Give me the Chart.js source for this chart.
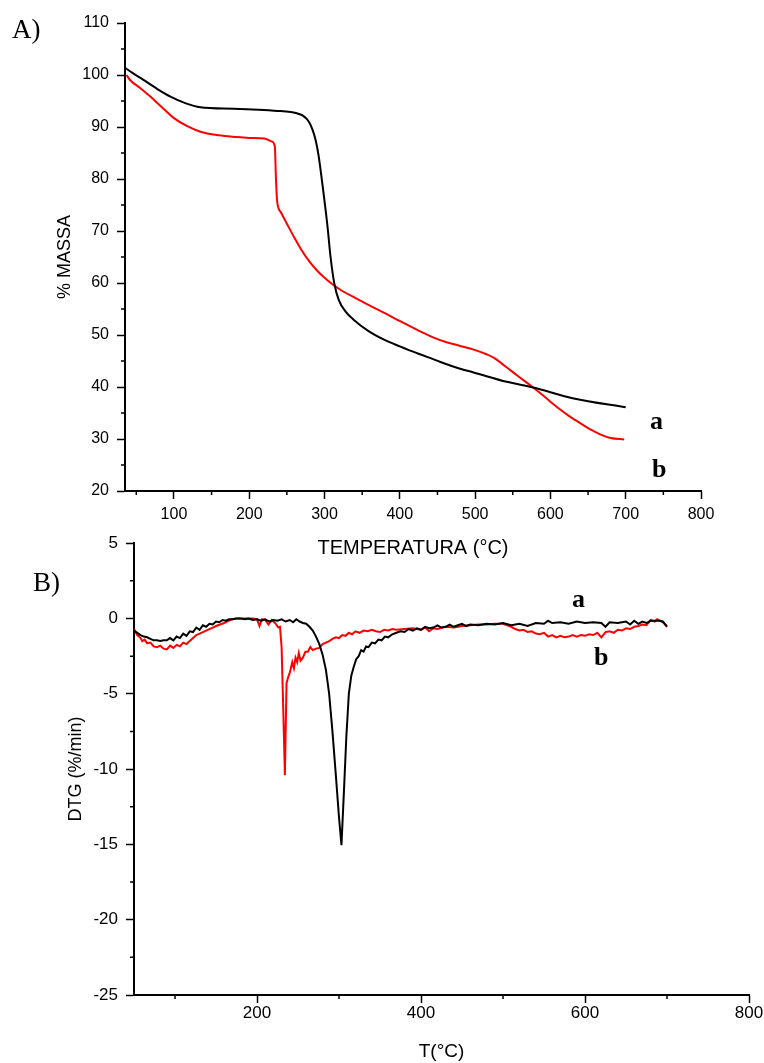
<!DOCTYPE html>
<html lang="pt">
<head>
<meta charset="UTF-8">
<title>TGA / DTG</title>
<script src="https://cdn.jsdelivr.net/npm/chart.js@4.4.1/dist/chart.umd.min.js"></script>
<style>
  body { margin: 0; background: #fff; }
  #page { position: relative; width: 764px; height: 1063px; overflow: hidden; }
  canvas { position: absolute; left: 0; }
  .tag { position: absolute; font-family: "Liberation Serif", serif; line-height: 1; color: #000; }
  .panel { font-size: 27px; }
  .curve { font-size: 26px; font-weight: bold; }
</style>
</head>
<body>
<div id="page">
  <canvas id="tga-chart" width="764" height="565" style="top:0"></canvas>
  <canvas id="dtg-chart" width="764" height="538" style="top:525px"></canvas>
  <div class="tag panel" style="left:12px;top:16px">A)</div>
  <div class="tag panel" style="left:33px;top:569px">B)</div>
  <div class="tag curve" style="left:650px;top:408px">a</div>
  <div class="tag curve" style="left:652px;top:456px">b</div>
  <div class="tag curve" style="left:572px;top:586px">a</div>
  <div class="tag curve" style="left:594px;top:644px">b</div>
</div>

<script>
    // A) mass loss curves
    const tgaTempA = [35, 45, 60, 78, 96, 115, 135, 179, 237, 255,
                      262, 268, 272, 276, 280, 284, 288, 292, 297, 304,
                      308, 313, 319, 328, 339, 358, 379, 400, 412, 423,
                      438, 454, 480, 498, 542, 577, 631, 700];
    const tgaMassA = [101.4, 100.4, 99.0, 97.3, 95.8, 94.6, 93.8, 93.5, 93.1, 92.9,
                      92.7, 92.4, 92.1, 91.6, 90.8, 89.5, 87.6, 84.6, 79.2, 70.8,
                      65.0, 59.9, 56.7, 54.5, 52.9, 50.8, 49.1, 47.8, 47.1, 46.5,
                      45.7, 44.8, 43.5, 42.8, 41.0, 39.9, 37.8, 36.1];

    const tgaTempB = [37, 42, 55, 69, 84, 100, 117, 135, 160, 180,
                      200, 220, 230, 234, 235.5, 237, 242, 250, 260, 270,
                      280, 290, 300, 310, 321, 340, 357, 380, 401, 423,
                      445, 460, 480, 500, 515, 525, 540, 556, 577, 590,
                      609, 625, 640, 655, 666, 680, 698];
    const tgaMassB = [100, 99, 97.5, 95.8, 93.8, 91.7, 90.2, 89.1, 88.4, 88.1,
                      87.9, 87.8, 87.2, 86.3, 80, 75.8, 73.6, 71.4, 68.7, 66.2,
                      64.1, 62.4, 61.0, 59.8, 58.7, 57.2, 55.9, 54.2, 52.6, 51.0,
                      49.5, 48.7, 47.9, 47.1, 46.3, 45.6, 44.0, 42.2, 39.9, 38.4,
                      36.1, 34.4, 33.0, 31.7, 30.9, 30.2, 29.9];

    // B) derivative curves
    const dtgTempA = [50, 54, 58, 62, 66, 70, 74, 78, 82, 86,
                      90, 94, 98, 102, 106, 110, 114, 118, 122, 126,
                      130, 134, 138, 142, 146, 150, 154, 158, 162, 166,
                      170, 175, 180, 185, 190, 195, 200, 205, 210, 215,
                      220, 225, 230, 235, 240, 244, 248, 252, 256, 260,
                      264, 268, 272, 276, 280, 284, 288, 292, 296, 300,
                      303, 306, 309, 312, 315, 318, 321, 324, 327, 330,
                      333, 336, 340, 344, 348, 352, 356, 360, 365, 370,
                      375, 380, 385, 390, 395, 400, 405, 410, 415, 420,
                      425, 430, 435, 440, 445, 450, 455, 460, 470, 480,
                      490, 500, 510, 520, 530, 540, 550, 555, 560, 570,
                      580, 590, 600, 610, 620, 625, 630, 640, 650, 655,
                      660, 665, 670, 675, 680, 690, 695, 700];
    const dtgRateA = [-0.8, -0.95, -1.1, -1.2, -1.25, -1.35, -1.45, -1.45, -1.5, -1.45,
                      -1.45, -1.3, -1.45, -1.2, -1.3, -1.0, -1.15, -0.85, -0.9, -0.6,
                      -0.75, -0.45, -0.55, -0.35, -0.4, -0.2, -0.25, -0.1, -0.15, -0.05,
                      -0.05, 0, 0, -0.05, 0, -0.1, -0.05, -0.15, -0.05, -0.2,
                      -0.1, -0.15, -0.05, -0.2, -0.1, -0.25, -0.05, -0.2, -0.3, -0.35,
                      -0.55, -0.8, -1.2, -1.7, -2.4, -3.4, -5.0, -7.5, -10.3, -13.2,
                      -15.05, -11.5, -7.8, -5.0, -3.8, -3.2, -2.7, -2.5, -2.1, -2.2,
                      -1.85, -1.9, -1.6, -1.65, -1.4, -1.45, -1.2, -1.25, -1.05, -0.95,
                      -0.85, -0.9, -0.7, -0.8, -0.65, -0.75, -0.55, -0.65, -0.6, -0.45,
                      -0.6, -0.55, -0.4, -0.55, -0.45, -0.35, -0.5, -0.4, -0.45, -0.35,
                      -0.4, -0.3, -0.45, -0.35, -0.5, -0.3, -0.35, -0.15, -0.3, -0.25,
                      -0.35, -0.2, -0.3, -0.25, -0.3, -0.55, -0.25, -0.3, -0.2, -0.4,
                      -0.15, -0.35, -0.2, -0.3, -0.15, -0.15, -0.2, -0.55];

    const dtgTempB = [50, 54, 58, 60, 63, 66, 70, 74, 78, 82,
                      86, 90, 94, 98, 102, 106, 110, 114, 118, 122,
                      126, 130, 134, 138, 142, 146, 150, 155, 160, 165,
                      170, 175, 180, 185, 190, 195, 200, 203, 206, 210,
                      214, 218, 222, 226, 228, 230, 232, 234, 236, 238,
                      240, 243, 245, 247, 249, 251, 253, 256, 259, 262,
                      265, 268, 272, 276, 280, 284, 288, 292, 296, 300,
                      304, 308, 312, 316, 320, 325, 330, 335, 340, 345,
                      350, 355, 360, 365, 370, 380, 390, 400, 405, 410,
                      415, 420, 430, 440, 450, 460, 470, 480, 490, 500,
                      505, 510, 515, 520, 525, 530, 535, 540, 545, 550,
                      555, 560, 565, 570, 575, 580, 585, 590, 595, 600,
                      605, 610, 615, 620, 625, 630, 635, 640, 645, 650,
                      655, 660, 665, 670, 675, 680, 685, 688, 692, 696, 700];
    const dtgRateB = [-0.7, -1.1, -1.3, -1.5, -1.4, -1.65, -1.6, -1.85, -1.9, -1.8,
                      -2.0, -2.05, -1.8, -1.95, -1.75, -1.85, -1.6, -1.7, -1.5, -1.3,
                      -1.1, -1.0, -0.9, -0.8, -0.7, -0.6, -0.5, -0.4, -0.3, -0.15,
                      -0.05, 0, 0, 0, 0, 0, -0.05, -0.5, -0.05, -0.1,
                      -0.4, -0.1, -0.3, -0.6, -0.55, -1.9, -6.0, -10.4, -4.3, -3.9,
                      -3.6, -2.9, -3.3, -2.6, -2.9, -2.3, -2.8, -2.6, -2.2, -2.2,
                      -1.9, -2.1, -2.0, -1.95, -1.7, -1.6, -1.5, -1.35, -1.25, -1.3,
                      -1.1, -1.15, -0.95, -1.05, -0.85, -0.95, -0.8, -0.85, -0.75, -0.85,
                      -0.9, -0.75, -0.8, -0.7, -0.75, -0.7, -0.65, -0.75, -0.6, -0.85,
                      -0.65, -0.7, -0.55, -0.6, -0.5, -0.45, -0.4, -0.4, -0.35, -0.35,
                      -0.45, -0.55, -0.7, -0.8, -0.75, -0.9, -0.85, -1.0, -1.05, -0.95,
                      -1.2, -1.1, -1.25, -1.15, -1.25, -1.2, -1.1, -1.2, -1.1, -1.15,
                      -1.05, -1.1, -0.95, -1.25, -0.9, -0.85, -0.95, -0.75, -0.8, -0.65,
                      -0.7, -0.55, -0.5, -0.4, -0.45, -0.1, -0.2, -0.05, -0.15, -0.3, -0.5];

    // axis ticks
    const tgaXTicks = [100, 200, 300, 400, 500, 600, 700, 800];
    const tgaXMinor = [50, 150, 250, 350, 450, 550, 650, 750];
    const tgaYTicks = [20, 30, 40, 50, 60, 70, 80, 90, 100, 110];
    const tgaYMinor = [25, 35, 45, 55, 65, 75, 85, 95, 105];
    const dtgXTicks = [200, 400, 600, 800];
    const dtgXMinor = [100, 300, 500, 700];
    const dtgYTicks = [-25, -20, -15, -10, -5, 0, 5];
    const dtgYMinor = [-22.5, -17.5, -12.5, -7.5, -2.5, 2.5];

    const SANS = "'Liberation Sans', Arial, sans-serif";

    const minorTicks = {
        id: 'minorTicks',
        afterDraw(chart, args, opts) {
            const {ctx, chartArea, scales} = chart;
            ctx.save();
            ctx.strokeStyle = '#000';
            ctx.lineWidth = 1.5;
            ctx.beginPath();
            (opts.x || []).forEach(v => {
                const px = scales.x.getPixelForValue(v);
                ctx.moveTo(px, chartArea.bottom);
                ctx.lineTo(px, chartArea.bottom + opts.length);
            });
            (opts.y || []).forEach(v => {
                const py = scales.y.getPixelForValue(v);
                ctx.moveTo(chartArea.left - opts.length, py);
                ctx.lineTo(chartArea.left, py);
            });
            ctx.stroke();
            ctx.restore();
        }
    };

    function toPoints(xs, ys) {
        return xs.map((x, i) => ({x: x, y: ys[i]}));
    }

    function axis(o) {
        return {
            type: 'linear',
            min: o.min,
            max: o.max,
            afterBuildTicks: s => { s.ticks = o.ticks.map(v => ({value: v})); },
            afterFit: s => { if (o.width) s.width = o.width; if (o.height) s.height = o.height; },
            grid: {drawOnChartArea: false, tickLength: 8, tickWidth: 1.5, tickColor: '#000'},
            border: {color: '#000', width: 2},
            ticks: {color: '#000', font: {family: SANS, size: o.tickSize}, padding: o.tickPad,
                    autoSkip: false, maxRotation: 0},
            title: {display: true, text: o.title, color: '#000',
                    font: {family: SANS, size: o.titleSize}, padding: o.titlePad}
        };
    }

    new Chart('tga-chart', {
        type: 'line',
        data: {
            datasets: [
                {data: toPoints(tgaTempA, tgaMassA), borderColor: '#000', borderWidth: 2,
                 pointRadius: 0, cubicInterpolationMode: 'monotone'},
                {data: toPoints(tgaTempB, tgaMassB), borderColor: '#ff0000', borderWidth: 2,
                 pointRadius: 0, cubicInterpolationMode: 'monotone'}
            ]
        },
        options: {
            responsive: false,
            animation: false,
            layout: {padding: {top: 23, right: 63, left: 0, bottom: 0}},
            plugins: {legend: {display: false}, tooltip: {enabled: false},
                      minorTicks: {x: tgaXMinor, y: tgaYMinor, length: 4}},
            scales: {
                x: axis({min: 35, max: 800, ticks: tgaXTicks, height: 74, tickSize: 16, tickPad: 6,
                         title: 'TEMPERATURA (°C)', titleSize: 20, titlePad: {top: 0, bottom: 5}}),
                y: axis({min: 20, max: 110, ticks: tgaYTicks, width: 125, tickSize: 16, tickPad: 8,
                         title: '% MASSA', titleSize: 18, titlePad: {top: 54, bottom: 0}})
            }
        },
        plugins: [minorTicks]
    });

    new Chart('dtg-chart', {
        type: 'line',
        data: {
            datasets: [
                {data: toPoints(dtgTempA, dtgRateA), borderColor: '#000', borderWidth: 2,
                 pointRadius: 0, tension: 0},
                {data: toPoints(dtgTempB, dtgRateB), borderColor: '#ff0000', borderWidth: 2,
                 pointRadius: 0, tension: 0}
            ]
        },
        options: {
            responsive: false,
            animation: false,
            layout: {padding: {top: 14, right: 15, left: 0, bottom: 0}},
            plugins: {legend: {display: false}, tooltip: {enabled: false},
                      minorTicks: {x: dtgXMinor, y: dtgYMinor, length: 4}},
            scales: {
                x: axis({min: 50, max: 800, ticks: dtgXTicks, height: 68, tickSize: 17, tickPad: 0,
                         title: 'T(°C)', titleSize: 19, titlePad: {top: 0, bottom: 0}}),
                y: axis({min: -25, max: 5, ticks: dtgYTicks, width: 134, tickSize: 17, tickPad: 8,
                         title: 'DTG (%/min)', titleSize: 18, titlePad: {top: 65, bottom: 0}})
            }
        },
        plugins: [minorTicks]
    });
</script>
</body>
</html>
